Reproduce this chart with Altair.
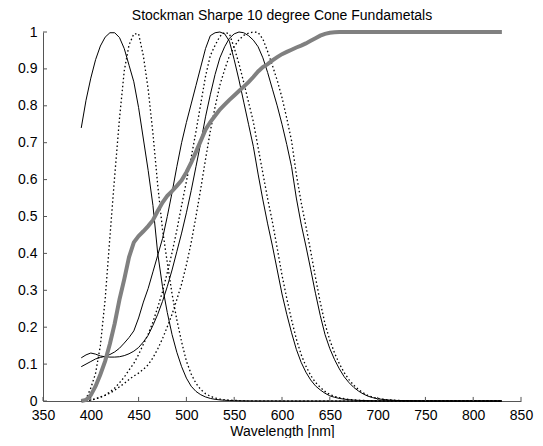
import altair as alt
import pandas as pd

# wavelength sampling grid (nm)
WL = list(range(390, 705, 5)) + list(range(710, 840, 10))

S_SOLID = [0.74, 0.815, 0.875, 0.925, 0.962, 0.986, 0.998, 0.998, 0.985, 0.955,
           0.91, 0.865, 0.795, 0.71, 0.625, 0.53, 0.40, 0.31, 0.24, 0.18,
           0.132, 0.093, 0.062, 0.04, 0.026, 0.017, 0.011, 0.007, 0.0045, 0.003,
           0.002, 0.0013, 0.0009, 0.0006, 0.0004, 0.0003, 0.0002, 0.0002, 0.0001, 0.0001,
           0.0001, 0.0001, 0, 0, 0, 0, 0, 0, 0, 0,
           0, 0, 0, 0, 0, 0, 0, 0, 0, 0,
           0, 0, 0,
           0, 0, 0, 0, 0, 0, 0, 0, 0, 0, 0, 0, 0]

S_DOT = [0.0, 0.006, 0.035, 0.075, 0.15, 0.275, 0.445, 0.61, 0.765, 0.895,
         0.965, 0.995, 0.995, 0.935, 0.845, 0.725, 0.585, 0.465, 0.375, 0.29,
         0.22, 0.16, 0.108, 0.073, 0.048, 0.031, 0.02, 0.013, 0.008, 0.005,
         0.0035, 0.0024, 0.0016, 0.0011, 0.0008, 0.0005, 0.0004, 0.0003, 0.0002, 0.0002,
         0.0001, 0.0001, 0.0001, 0, 0, 0, 0, 0, 0, 0,
         0, 0, 0, 0, 0, 0, 0, 0, 0, 0,
         0, 0, 0,
         0, 0, 0, 0, 0, 0, 0, 0, 0, 0, 0, 0, 0]

M_SOLID = [0.093, 0.10, 0.107, 0.114, 0.118, 0.121, 0.126, 0.133, 0.143, 0.157,
           0.172, 0.19, 0.225, 0.268, 0.305, 0.35, 0.395, 0.44, 0.50, 0.565,
           0.635, 0.70, 0.755, 0.805, 0.855, 0.905, 0.955, 0.99, 0.998, 1.0,
           0.995, 0.975, 0.925, 0.87, 0.81, 0.75, 0.69, 0.615, 0.545, 0.48,
           0.42, 0.355, 0.29, 0.235, 0.185, 0.14, 0.105, 0.078, 0.057, 0.041,
           0.03, 0.021, 0.014, 0.01, 0.007, 0.005, 0.0035, 0.0025, 0.0017, 0.0012,
           0.0009, 0.0006, 0.0005,
           0.0003, 0.0002, 0.0001, 0.0001, 0, 0, 0, 0, 0, 0, 0, 0, 0]

M_DOT = [0, 0.0004, 0.0021, 0.0057, 0.0106, 0.0163, 0.0246, 0.0349, 0.0492, 0.0648,
         0.0839, 0.102, 0.126, 0.154, 0.181, 0.214, 0.254, 0.296, 0.348, 0.402,
         0.463, 0.53, 0.595, 0.66, 0.73, 0.805, 0.88, 0.936, 0.964, 0.988,
         0.999, 0.995, 0.957, 0.914, 0.863, 0.81, 0.757, 0.687, 0.617, 0.548,
         0.485, 0.414, 0.341, 0.278, 0.22, 0.168, 0.126, 0.0945, 0.0695, 0.0504,
         0.0371, 0.0261, 0.0175, 0.0125, 0.0088, 0.0063, 0.0044, 0.0031, 0.0021, 0.0015,
         0.0011, 0.0008, 0.0006,
         0.0004, 0.0002, 0.0001, 0.0001, 0, 0, 0, 0, 0, 0, 0, 0, 0]

L_SOLID = [0.117, 0.125, 0.13, 0.127, 0.122, 0.12, 0.119, 0.119, 0.12, 0.123,
           0.128, 0.135, 0.145, 0.16, 0.178, 0.205, 0.235, 0.27, 0.31, 0.355,
           0.405, 0.455, 0.51, 0.57, 0.635, 0.70, 0.77, 0.83, 0.885, 0.93,
           0.96, 0.983, 0.995, 1.0, 0.998, 0.99, 0.978, 0.96, 0.93, 0.89,
           0.845, 0.80, 0.75, 0.695, 0.635, 0.55, 0.48, 0.42, 0.357, 0.292,
           0.232, 0.18, 0.142, 0.112, 0.087, 0.066, 0.05, 0.037, 0.027, 0.019,
           0.013, 0.009, 0.006,
           0.003, 0.0015, 0.0008, 0.0004, 0.0002, 0.0001, 0.0001, 0, 0, 0, 0, 0, 0]

L_DOT = [0, 0.0004, 0.0024, 0.0059, 0.0102, 0.0151, 0.0215, 0.0291, 0.0385, 0.0473,
         0.0582, 0.0677, 0.0755, 0.0858, 0.0983, 0.117, 0.141, 0.169, 0.201, 0.235,
         0.275, 0.317, 0.369, 0.429, 0.50, 0.575, 0.655, 0.731, 0.797, 0.856,
         0.898, 0.935, 0.96, 0.979, 0.991, 0.997, 1.0, 0.999, 0.981, 0.947,
         0.909, 0.869, 0.822, 0.766, 0.705, 0.614, 0.539, 0.474, 0.406, 0.335,
         0.268, 0.209, 0.165, 0.13, 0.101, 0.077, 0.058, 0.043, 0.031, 0.022,
         0.015, 0.0105, 0.007,
         0.0035, 0.0017, 0.0009, 0.0005, 0.0003, 0.0002, 0.0001, 0.0001, 0, 0, 0, 0, 0]

GRAY = [0.0, 0.003, 0.016, 0.04, 0.072, 0.108, 0.155, 0.21, 0.275, 0.33,
        0.39, 0.43, 0.447, 0.46, 0.474, 0.49, 0.515, 0.538, 0.556, 0.569,
        0.583, 0.598, 0.62, 0.646, 0.675, 0.705, 0.735, 0.756, 0.773, 0.79,
        0.803, 0.816, 0.828, 0.84, 0.852, 0.864, 0.878, 0.893, 0.905, 0.913,
        0.923, 0.932, 0.94, 0.946, 0.952, 0.958, 0.963, 0.969, 0.976, 0.983,
        0.99, 0.995, 0.998, 0.999, 1.0, 1.0, 1.0, 1.0, 1.0, 1.0,
        1.0, 1.0, 1.0,
        1.0, 1.0, 1.0, 1.0, 1.0, 1.0, 1.0, 1.0, 1.0, 1.0, 1.0, 1.0, 1.0]

X_TICKS = [350, 400, 450, 500, 550, 600, 650, 700, 750, 800, 850]
Y_TICKS = [0, 0.1, 0.2, 0.3, 0.4, 0.5, 0.6, 0.7, 0.8, 0.9, 1.0]

TITLE = "Stockman Sharpe 10 degree Cone Fundametals"
XLABEL = "Wavelength [nm]"
FONT = "Liberation Sans"


def long(series):
    rows = []
    for name, vals in series:
        for w, v in zip(WL, vals):
            rows.append({"wl": w, "v": v, "series": name})
    return pd.DataFrame(rows)


solid_df = long([("S", S_SOLID), ("M", M_SOLID), ("L", L_SOLID)])
dot_df = long([("S", S_DOT), ("M", M_DOT), ("L", L_DOT)])
gray_df = long([("T", GRAY)])

xscale = alt.Scale(domain=[350, 850], nice=False, zero=False)
yscale = alt.Scale(domain=[0, 1], nice=False)

xaxis = alt.Axis(values=X_TICKS, title=XLABEL, ticks=False, grid=False,
                 labelFont=FONT, labelFontSize=14, labelColor="black",
                 titleFont=FONT, titleFontSize=14, titleFontWeight="normal",
                 titleColor="black", titlePadding=2, labelPadding=7,
                 domainColor="#555555", domainWidth=1, labelFlush=False,
                 labelOverlap=False)
yaxis = alt.Axis(values=Y_TICKS, title="", ticks=False, grid=False, format=".1~f",
                 labelFont=FONT, labelFontSize=14, labelColor="black",
                 labelPadding=6, domainColor="#555555", domainWidth=1,
                 labelOverlap=False, labelFlush=False)

X = alt.X("wl:Q", scale=xscale, axis=xaxis)
Y = alt.Y("v:Q", scale=yscale, axis=yaxis)

solid = alt.Chart(solid_df).mark_line(color="black", strokeWidth=1).encode(
    x=X, y=Y, detail="series:N")
dotted = alt.Chart(dot_df).mark_line(color="black", strokeWidth=1.3,
                                     strokeDash=[1.5, 2.5]).encode(
    x=X, y=Y, detail="series:N")
gray = alt.Chart(gray_df).mark_line(color="#808080", strokeWidth=4).encode(x=X, y=Y)

xt_df = pd.DataFrame({"wl": X_TICKS, "v": [0] * len(X_TICKS), "v2": [0.011] * len(X_TICKS)})
yt_df = pd.DataFrame({"v": Y_TICKS, "wl": [350] * len(Y_TICKS), "wl2": [354.2] * len(Y_TICKS)})

xticks = alt.Chart(xt_df).mark_rule(color="#555555", strokeWidth=1).encode(
    x=X, y=Y, y2="v2:Q")
yticks = alt.Chart(yt_df).mark_rule(color="#555555", strokeWidth=1).encode(
    y=Y, x=X, x2="wl2:Q")

chart = alt.layer(solid, dotted, gray, xticks, yticks).properties(
    width=478, height=369,
    title=alt.TitleParams(TITLE, font=FONT, fontSize=14, fontWeight="normal",
                          color="black", anchor="middle", offset=1),
    autosize=alt.AutoSizeParams(type="none"),
    padding={"left": 35, "top": 24, "right": 14, "bottom": 37},
).configure_view(stroke=None)

chart.save("out.html", embed_options={"renderer": "svg", "actions": False})
